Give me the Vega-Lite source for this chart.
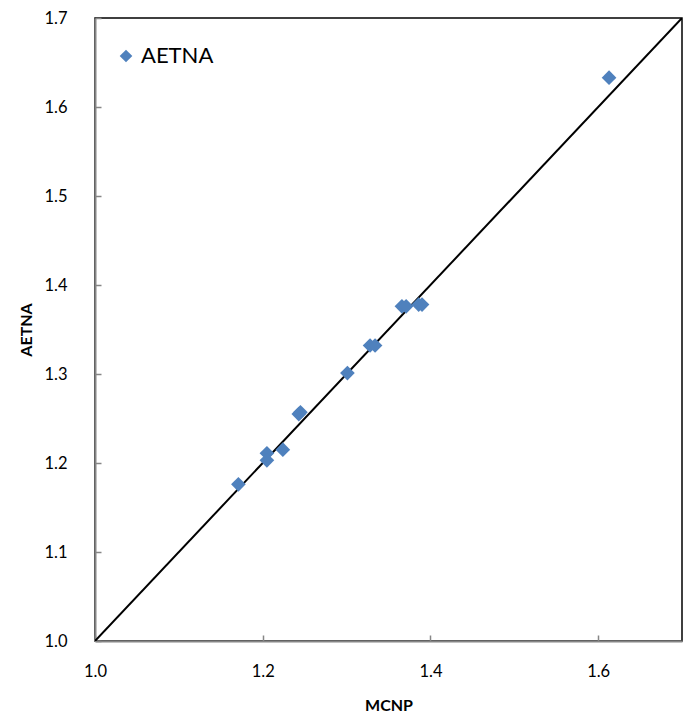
{
  "$schema": "https://vega.github.io/schema/vega-lite/v6.json",
  "autosize": "none",
  "width": 587,
  "height": 623,
  "padding": {"left": 95, "top": 18, "right": 3, "bottom": 79},
  "background": "white",
  "config": {
    "font": "Lato",
    "view": {"stroke": "black", "strokeWidth": 1.5},
    "axis": {"grid": false, "domainColor": "#868686", "domainWidth": 2, "tickColor": "#868686", "tickWidth": 1.5, "labelFont": "Lato", "labelFontSize": 16.5, "labelColor": "black", "labelFlush": false, "titleFont": "Lato", "titleFontSize": 16, "titleFontWeight": "bold", "titleColor": "black", "zindex": 1}
  },
  "datasets": {
    "points": [
      {"MCNP": 1.171, "AETNA": 1.176, "series": "AETNA"},
      {"MCNP": 1.205, "AETNA": 1.211, "series": "AETNA"},
      {"MCNP": 1.205, "AETNA": 1.203, "series": "AETNA"},
      {"MCNP": 1.224, "AETNA": 1.215, "series": "AETNA"},
      {"MCNP": 1.243, "AETNA": 1.255, "series": "AETNA"},
      {"MCNP": 1.245, "AETNA": 1.257, "series": "AETNA"},
      {"MCNP": 1.301, "AETNA": 1.301, "series": "AETNA"},
      {"MCNP": 1.328, "AETNA": 1.332, "series": "AETNA"},
      {"MCNP": 1.334, "AETNA": 1.332, "series": "AETNA"},
      {"MCNP": 1.366, "AETNA": 1.376, "series": "AETNA"},
      {"MCNP": 1.371, "AETNA": 1.376, "series": "AETNA"},
      {"MCNP": 1.386, "AETNA": 1.378, "series": "AETNA"},
      {"MCNP": 1.390, "AETNA": 1.378, "series": "AETNA"},
      {"MCNP": 1.613, "AETNA": 1.633, "series": "AETNA"}
    ],
    "diag": [
      {"MCNP": 1.0, "AETNA": 1.0},
      {"MCNP": 1.7, "AETNA": 1.7}
    ]
  },
  "layer": [
    {
      "data": {"name": "diag"},
      "mark": {"type": "line", "color": "black", "strokeWidth": 2, "clip": true},
      "encoding": {
        "x": {"field": "MCNP", "type": "quantitative"},
        "y": {"field": "AETNA", "type": "quantitative"}
      }
    },
    {
      "data": {"name": "points"},
      "mark": {"type": "point", "shape": "diamond", "filled": true, "opacity": 1, "size": 215},
      "encoding": {
        "x": {"field": "MCNP", "type": "quantitative", "title": "MCNP",
              "scale": {"domain": [1.0, 1.7], "nice": false, "zero": false},
              "axis": {"values": [1.0, 1.2, 1.4, 1.6], "format": ".1f", "tickSize": -6, "labelPadding": 28, "titlePadding": 18}},
        "y": {"field": "AETNA", "type": "quantitative", "title": "AETNA",
              "scale": {"domain": [1.0, 1.7], "nice": false, "zero": false},
              "axis": {"values": [1.0, 1.1, 1.2, 1.3, 1.4, 1.5, 1.6, 1.7], "format": ".1f", "tickSize": -6, "labelPadding": 34, "titlePadding": 9}},
        "color": {"field": "series", "type": "nominal",
                  "scale": {"range": ["#4F81BD"]},
                  "legend": {"title": null, "orient": "none", "legendX": 20, "legendY": 27, "symbolType": "diamond", "symbolSize": 160, "labelFontSize": 22, "labelFont": "Lato", "labelColor": "black", "symbolStrokeWidth": 0}}
      }
    }
  ]
}
